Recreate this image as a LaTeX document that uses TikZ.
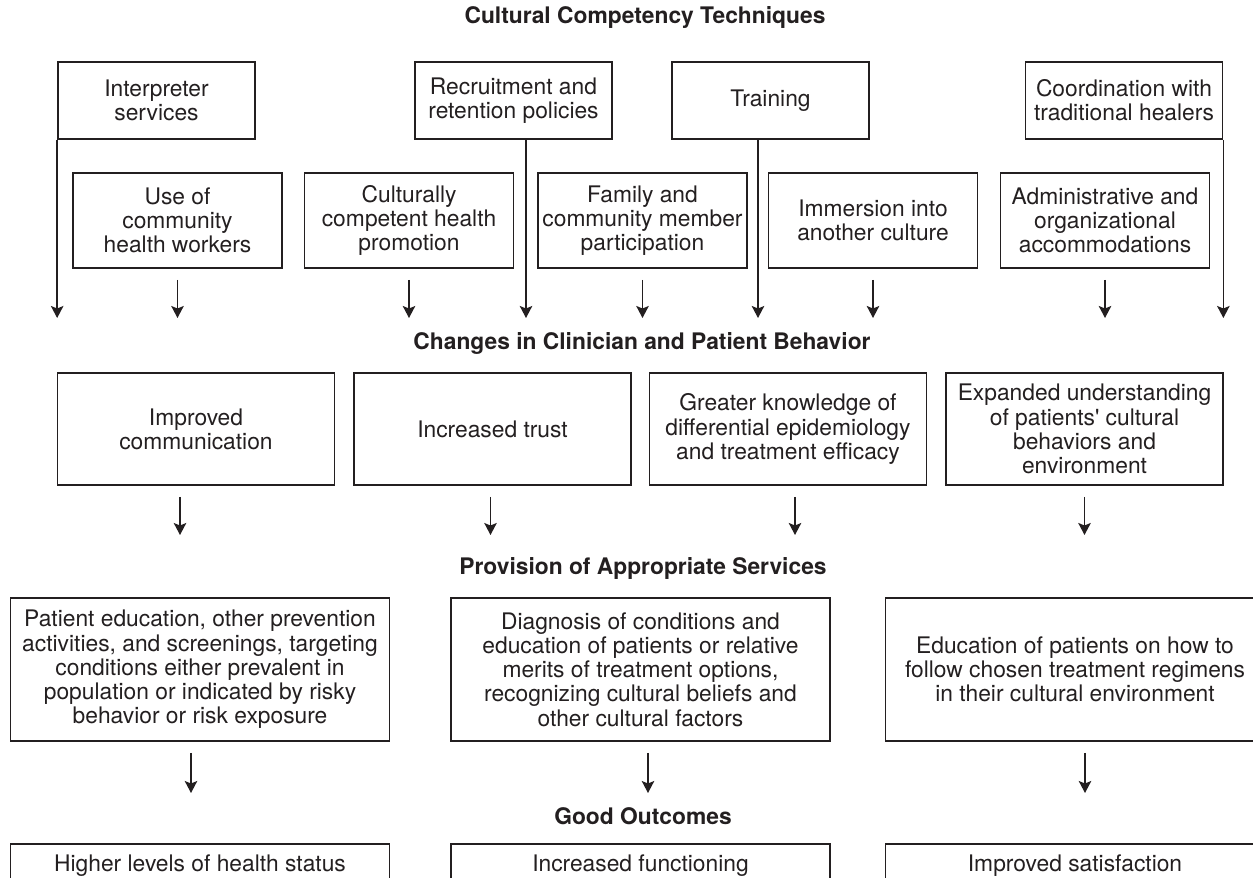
\documentclass[tikz,border=0pt]{standalone}
\usepackage{fontspec}
\setmainfont{TeX Gyre Heros}
\usepackage{tikz}
\usetikzlibrary{arrows.meta,calc}
\definecolor{ink}{HTML}{231F20}
\tikzset{
  box/.style={draw=ink, line width=1.7pt, rectangle, align=center, inner sep=2pt,
    text=ink, font=\fontsize{22.8}{24.2}\selectfont},
  head/.style={text=ink, font=\fontsize{22.8}{24.2}\selectfont\bfseries},
  techtop/.style={box, minimum width=197pt, minimum height=77pt},
  techlow/.style={box, minimum width=209pt, minimum height=95pt},
  change/.style={box, minimum width=277pt, minimum height=112pt},
  service/.style={box, minimum width=379pt, minimum height=143pt},
  outcome/.style={box, minimum width=379pt, minimum height=44pt},
  flow/.style={-{Stealth[length=12pt,width=12.5pt,inset=2.5pt]}, line width=1.6pt, draw=ink},
  gap/.style={shorten <=11pt}
}
\begin{document}
\begin{tikzpicture}[x=1pt,y=-1pt]
  \useasboundingbox (0,0) rectangle (1253,878);
  \clip (0,0) rectangle (1253,878);

  % headings
  \node[head] (hTech) at (645,18) {Cultural Competency Techniques};
  \node[head] (hChange) at (642,343) {Changes in Clinician and Patient Behavior};
  \node[head] (hProv) at (643,568) {Provision of Appropriate Services};
  \node[head] (hGood) at (643,816) {Good Outcomes};

  \coordinate (tipA) at (0,318);
  \coordinate (tipB) at (0,535);
  \coordinate (tipC) at (0,793);

  % techniques
  \node[techtop] (interp) at (156.5,100.5) {Interpreter\\services};
  \node[techtop] (recruit) at (513.5,100.5) {Recruitment and\\retention policies};
  \node[techtop] (train) at (770.5,100.5) {Training};
  \node[techtop] (coord) at (1124,100.5) {Coordination with\\traditional healers};

  \node[techlow] (chw) at (177.5,220.5) {Use of\\community\\health workers};
  \node[techlow] (promo) at (409,220.5) {Culturally\\competent health\\promotion};
  \node[techlow] (family) at (642.5,220.5) {Family and\\community member\\participation};
  \node[techlow] (immers) at (873,220.5) {Immersion into\\another culture};
  \node[techlow] (admin) at (1105,220.5) {Administrative and\\organizational\\accommodations};

  \foreach \n in {chw,promo,family,immers,admin}
    \draw[flow,gap] (\n.south) -- (\n.south |- tipA);
  \draw[flow] (interp.south west) -- (interp.south west |- tipA);
  \draw[flow] ([xshift=12.5pt]recruit.south) -- ([xshift=12.5pt]recruit.south |- tipA);
  \draw[flow] ([xshift=-12.5pt]train.south) -- ([xshift=-12.5pt]train.south |- tipA);
  \draw[flow] (coord.south east) -- (coord.south east |- tipA);

  % behavior
  \node[change] (comm) at (196,429) {Improved\\communication};
  \node[change] (trust) at (492.5,429) {Increased trust};
  \node[change] (know) at (788,429) {Greater knowledge of\\differential epidemiology\\and treatment efficacy};
  \node[change] (expand) at (1084.5,429) {Expanded understanding\\of patients\textquotesingle\ cultural\\behaviors and\\environment};

  \foreach \n/\s in {comm/-16,trust/-2,know/7,expand/0}
    \draw[flow,gap] ([xshift=\s pt]\n.south) -- ([xshift=\s pt]\n.south |- tipB);

  % services
  \node[service] (prev) at (200,669.5) {Patient education, other prevention\\activities, and screenings, targeting\\conditions either prevalent in\\population or indicated by risky\\behavior or risk exposure};
  \node[service] (diag) at (640.5,669.5) {Diagnosis of conditions and\\education of patients or relative\\merits of treatment options,\\recognizing cultural beliefs and\\other cultural factors};
  \node[service] (follow) at (1075,669.5) {Education of patients on how to\\follow chosen treatment regimens\\in their cultural environment};

  \foreach \n/\s in {prev/-9,diag/7.5,follow/10}
    \draw[flow,gap] ([xshift=\s pt]\n.south) -- ([xshift=\s pt]\n.south |- tipC);

  % outcomes
  \node[outcome] (health) at (200,866) {Higher levels of health status};
  \node[outcome] (func) at (640.5,866) {Increased functioning};
  \node[outcome] (satis) at (1075,866) {Improved satisfaction};
\end{tikzpicture}
\end{document}
